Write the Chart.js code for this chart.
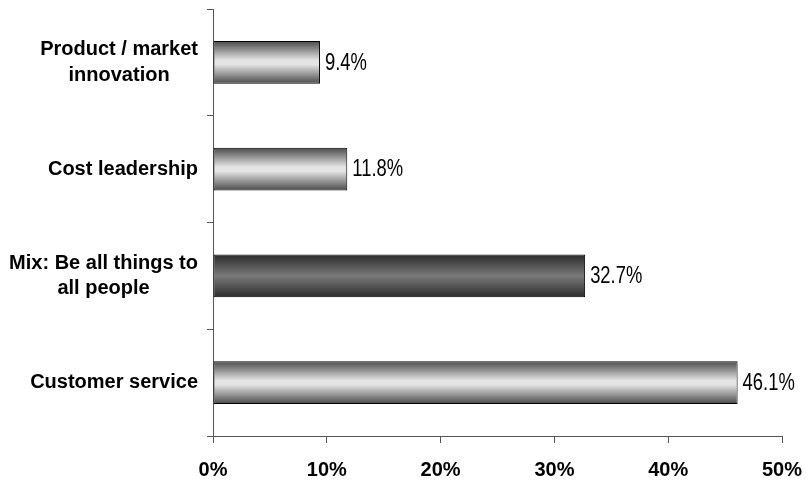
<!DOCTYPE html>
<html>
<head>
<meta charset="utf-8">
<script src="https://cdn.jsdelivr.net/npm/chart.js@4/dist/chart.umd.min.js"></script>
<style>
  html, body { margin: 0; padding: 0; background: #fff; }
  #wrap { width: 808px; height: 481px; }
</style>
</head>
<body>
<div id="wrap"><canvas id="c" width="808" height="481"></canvas></div>
<script>
const categories = [
  ["Product / market", "innovation"],
  ["Cost leadership"],
  ["Mix: Be all things to", "all people"],
  ["Customer service"]
];
const values = [9.4, 11.8, 32.7, 46.1];
const barShades = ["light", "light", "dark", "light"];
const xTicks = [0, 10, 20, 30, 40, 50];

const catFont = "bold 20px 'Liberation Sans', Arial, sans-serif";
const valFont = "23px 'Liberation Sans', Arial, sans-serif";
const valSquash = 0.8;

function barGradient(context) {
  const chart = context.chart;
  const y = chart.scales && chart.scales.y;
  const shade = barShades[context.dataIndex];
  if (!chart.chartArea || !y) return shade === "dark" ? "#666" : "#ccc";
  const band = y.height / categories.length;
  const t = band * 0.4;
  const c = y.getPixelForValue(context.dataIndex);
  const g = chart.ctx.createLinearGradient(0, c - t / 2, 0, c + t / 2);
  if (shade === "dark") {
    g.addColorStop(0, "#2a2a2a");
    g.addColorStop(0.5, "#7a7a7a");
    g.addColorStop(1, "#2a2a2a");
  } else {
    g.addColorStop(0, "#4a4a4a");
    g.addColorStop(0.45, "#e4e4e4");
    g.addColorStop(0.55, "#e4e4e4");
    g.addColorStop(1, "#4a4a4a");
  }
  return g;
}

const labelPlugin = {
  id: "labels",
  afterDatasetsDraw(chart) {
    const ctx = chart.ctx;
    const y = chart.scales.y;
    const meta = chart.getDatasetMeta(0);
    ctx.save();
    ctx.font = catFont;
    ctx.fillStyle = "#000";
    ctx.textAlign = "center";
    ctx.textBaseline = "middle";
    const lh = 25.5;
    categories.forEach((lines, i) => {
      const cy = y.getPixelForValue(i);
      const maxW = Math.max(...lines.map(l => ctx.measureText(l).width));
      const cx = y.right - 15 - maxW / 2;
      const top = cy - (lines.length - 1) * lh / 2;
      lines.forEach((l, k) => ctx.fillText(l, cx, top + k * lh));
    });
    ctx.font = valFont;
    ctx.textAlign = "left";
    meta.data.forEach((bar, i) => {
      ctx.save();
      ctx.translate(bar.x + 5, bar.y + 1);
      ctx.scale(valSquash, 1);
      ctx.fillText(values[i].toFixed(1) + "%", 0, 0);
      ctx.restore();
    });
    ctx.restore();
  }
};

new Chart(document.getElementById("c"), {
  type: "bar",
  data: {
    labels: categories.map(l => l.join(" ")),
    datasets: [{
      data: values,
      backgroundColor: barGradient,
      borderColor: "#000",
      borderWidth: 1,
      borderSkipped: false,
      barPercentage: 0.4,
      categoryPercentage: 1.0
    }]
  },
  options: {
    indexAxis: "y",
    responsive: false,
    animation: false,
    layout: { padding: { top: 9, right: 26, left: 0, bottom: 0 } },
    plugins: { legend: { display: false }, tooltip: { enabled: false } },
    scales: {
      x: {
        min: 0, max: 50,
        afterBuildTicks(scale) { scale.ticks = xTicks.map(v => ({ value: v })); },
        afterFit(scale) { scale.height = 45; scale.paddingLeft = 0; scale.paddingRight = 0; },
        border: { display: true, color: "#555", width: 1 },
        grid: { drawOnChartArea: false, drawTicks: true, tickLength: 7, color: "#555" },
        ticks: {
          padding: 15,
          color: "#000",
          font: { family: "'Liberation Sans', Arial, sans-serif", size: 20, weight: "bold" },
          callback: v => v + "%"
        }
      },
      y: {
        afterFit(scale) { scale.width = 213; scale.paddingTop = 0; scale.paddingBottom = 0; },
        border: { display: true, color: "#555", width: 1 },
        grid: { offset: true, drawOnChartArea: false, drawTicks: true, tickLength: 6, color: "#555" },
        ticks: { display: false }
      }
    }
  },
  plugins: [labelPlugin]
});
</script>
</body>
</html>
